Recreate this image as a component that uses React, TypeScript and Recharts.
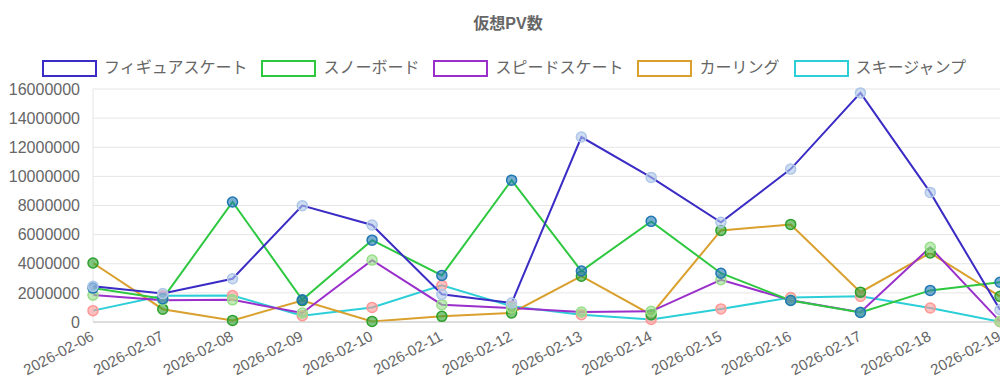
import React from "react";
import { LineChart, Line, XAxis, YAxis, CartesianGrid } from "recharts";

const categories = [
  "2026-02-06", "2026-02-07", "2026-02-08", "2026-02-09", "2026-02-10", "2026-02-11", "2026-02-12",
  "2026-02-13", "2026-02-14", "2026-02-15", "2026-02-16", "2026-02-17", "2026-02-18", "2026-02-19",
];
const figureSkating = [2450000, 1950000, 2970000, 7990000, 6660000, 1900000, 1300000, 12700000, 9930000, 6850000, 10500000, 15730000, 8900000, 840000];
const snowboard = [2330000, 1600000, 8240000, 1530000, 5620000, 3200000, 9740000, 3500000, 6910000, 3350000, 1480000, 660000, 2170000, 2730000];
const speedSkating = [1850000, 1490000, 1520000, 620000, 4250000, 1190000, 960000, 690000, 730000, 2900000, 1500000, 670000, 5130000, 40000];
const curling = [4050000, 880000, 110000, 1470000, 40000, 390000, 620000, 3150000, 500000, 6290000, 6700000, 2050000, 4740000, 1760000];
const skiJump = [780000, 1800000, 1820000, 430000, 1000000, 2520000, 1080000, 500000, 180000, 900000, 1680000, 1760000, 960000, 20000];
const yTicks = [0, 2000000, 4000000, 6000000, 8000000, 10000000, 12000000, 14000000, 16000000];

const seriesNames = ["フィギュアスケート", "スノーボード", "スピードスケート", "カーリング", "スキージャンプ"];
const seriesKeys = ["figure", "snow", "speed", "curling", "ski"];
const seriesValues = [figureSkating, snowboard, speedSkating, curling, skiJump];
const lineColors = ["#3a2cc4", "#2ec840", "#9a2fcb", "#d9a02e", "#2ccfd8"];
const pointColors = ["#aec7e8", "#1f77b4", "#98df8a", "#2ca02c", "#ff9896"];

const data = categories.map((c, i) => {
  const row: any = { date: c };
  seriesKeys.forEach((k, s) => (row[k] = seriesValues[s][i]));
  return row;
});

const FONT = '"Liberation Sans", Arial, "Noto Sans CJK JP", sans-serif';

const XTick = (props: any) => {
  const { x, y, payload } = props;
  return (
    <g transform={`translate(${x},${y + 4})`}>
      <text
        x={0}
        y={0}
        textAnchor="end"
        dominantBaseline="middle"
        transform="rotate(-28)"
        fill="#666"
        fontSize={15}
        fontFamily={FONT}
      >
        {payload.value}
      </text>
    </g>
  );
};

const makeDot = (color: string) => (props: any) => {
  const { cx, cy, index } = props;
  if (cx == null || cy == null) return <g key={index} />;
  return (
    <circle
      key={index}
      cx={cx}
      cy={cy}
      r={5}
      fill={color}
      fillOpacity={0.6}
      stroke={color}
      strokeWidth={1.5}
    />
  );
};

export default function App() {
  const order = [4, 3, 2, 1, 0];
  return (
    <div style={{ position: "relative", width: 1000, height: 369, fontFamily: FONT }}>
      <div
        style={{
          position: "absolute",
          top: 6,
          left: 0,
          width: 1000,
          textAlign: "center",
          fontSize: 16,
          fontWeight: "bold",
          color: "#666",
          lineHeight: "20px",
        }}
      >
        仮想PV数
      </div>
      <div
        style={{
          position: "absolute",
          top: 50,
          left: -4,
          width: 1000,
          display: "flex",
          justifyContent: "center",
          alignItems: "center",
          fontSize: 16,
          color: "#666",
          lineHeight: "20px",
        }}
      >
        {seriesNames.map((n, i) => (
          <div key={n} style={{ display: "flex", alignItems: "center", marginRight: i < 4 ? 14 : 0 }}>
            <div
              style={{
                width: 51,
                height: 13,
                border: `2px solid ${lineColors[i]}`,
                background: "#fff",
                marginRight: 7,
              }}
            />
            <span>{n}</span>
          </div>
        ))}
      </div>
      <div style={{ position: "absolute", top: 0, left: 0 }}>
        <LineChart width={1000} height={369} data={data} margin={{ top: 81, right: 8, left: 0, bottom: 0 }}>
          <CartesianGrid vertical={false} stroke="#e5e5e5" />
          <XAxis
            dataKey="date"
            tick={<XTick />}
            tickLine={false}
            axisLine={{ stroke: "#c8c8c8" }}
            interval={0}
            height={55}
            tickSize={4}
            tickMargin={6}
          />
          <YAxis
            domain={[0, 16000000]}
            ticks={yTicks}
            width={85}
            tickLine={false}
            axisLine={{ stroke: "#e5e5e5" }}
            tick={{ fill: "#666", fontSize: 16, fontFamily: FONT }}
            tickSize={10}
            tickMargin={3}
            interval={0}
          />
          {order.map((s) => (
            <Line
              key={seriesKeys[s]}
              dataKey={seriesKeys[s]}
              name={seriesNames[s]}
              stroke={lineColors[s]}
              strokeWidth={2}
              type="linear"
              dot={makeDot(pointColors[s])}
              activeDot={false}
              isAnimationActive={false}
            />
          ))}
        </LineChart>
      </div>
    </div>
  );
}
